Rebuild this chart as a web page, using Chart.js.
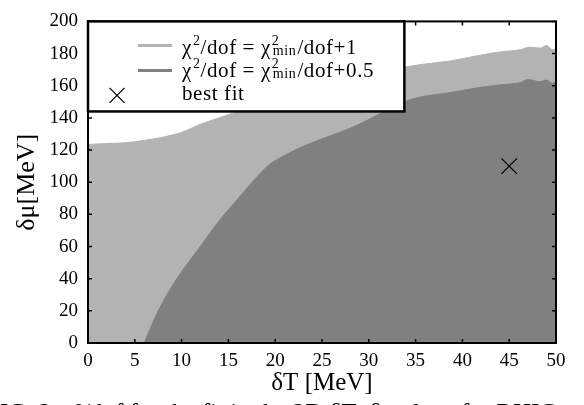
<!DOCTYPE html>
<html><head><meta charset="utf-8">
<script src="https://cdn.jsdelivr.net/npm/chart.js@4.4.0/dist/chart.umd.min.js"></script>
<style>html,body{margin:0;padding:0;background:#fff;overflow:hidden}#wrap{position:relative;width:584px;height:405px}</style>
</head><body><div id="wrap"><canvas id="c"></canvas></div>
<script>
// Light region (chi2/dof = chi2min/dof + 1): upper boundary
const lightT  = [0, 2, 4, 6, 8, 10, 12, 14, 15.5, 20, 25, 30, 33.8, 36, 38.7, 41.9, 44, 46.2, 47.2, 48.3, 49, 49.6, 50];
const lightMu = [123.5, 124, 124.5, 126, 128, 131, 136, 140, 143, 151, 160, 167, 171.5, 173.5, 175.4, 179, 181, 182.4, 184, 183.4, 185, 182.4, 183];
// Dark region (chi2/dof = chi2min/dof + 0.5): upper boundary
const darkT  = [6, 7.5, 9.5, 12, 14.1, 16, 18, 19.4, 20.5, 22.3, 24.8, 28, 30, 32, 34, 36, 38.7, 41.9, 44, 46.2, 47, 48.3, 49, 49.6, 50];
const darkMu = [0, 20, 40, 60, 76.6, 89.5, 103, 111, 115, 120.5, 126.5, 133.5, 139, 145, 150.5, 153.5, 155.7, 159, 160.5, 162, 163.8, 162.5, 163.5, 161.5, 163];
// Best fit point
const bestT  = [45];
const bestMu = [110];
// Ticks
const xTicks = [0, 5, 10, 15, 20, 25, 30, 35, 40, 45, 50];
const yTicks = [0, 20, 40, 60, 80, 100, 120, 140, 160, 180, 200];
const legendLabels = ['χ²/dof = χ²min/dof+1', 'χ²/dof = χ²min/dof+0.5', 'best fit'];
const legendRich = [
  [{t:'χ'},{sup:'2'},{t:'/dof = χ'},{sup:'2',sub:'min'},{t:'/dof+1'}],
  [{t:'χ'},{sup:'2'},{t:'/dof = χ'},{sup:'2',sub:'min'},{t:'/dof+0.5'}],
  [{t:'best fit'}]
];
const caption = 'FIG. 2: χ²/dof for the fit in the 2D δT–δμ plane for RHIC';

const FONT = '"Liberation Serif", "Times New Roman", serif';
const LIGHT = '#b3b3b3', DARK = '#808080';
const toPts = (xs, ys) => xs.map((v, i) => ({x: v, y: ys[i]}));

function drawRich(ctx, segs, x, y, size) {
  for (const s of segs) {
    if (s.t) {
      ctx.font = size + 'px ' + FONT;
      ctx.fillText(s.t, x, y);
      x += ctx.measureText(s.t).width;
    } else {
      const ss = Math.round(size * 0.66);
      ctx.font = ss + 'px ' + FONT;
      let w = 0;
      if (s.sup) { ctx.fillText(s.sup, x + 1, y - size * 0.45); w = Math.max(w, ctx.measureText(s.sup).width + 1); }
      if (s.sub) { ctx.fillText(s.sub, x + 2, y + 1); w = Math.max(w, ctx.measureText(s.sub).width + 3); }
      x += w;
    }
  }
}

const framePlugin = {
  id: 'frame',
  afterDatasetsDraw(chart) {
    const {ctx, chartArea: a, scales: {x, y}} = chart;
    ctx.save();
    ctx.strokeStyle = '#000';
    ctx.lineWidth = 1.5;
    ctx.beginPath();
    xTicks.forEach(v => { const p = x.getPixelForValue(v);
      ctx.moveTo(p, a.bottom); ctx.lineTo(p, a.bottom - 4);
      ctx.moveTo(p, a.top); ctx.lineTo(p, a.top + 4); });
    yTicks.forEach(v => { const p = y.getPixelForValue(v);
      ctx.moveTo(a.left, p); ctx.lineTo(a.left + 4, p);
      ctx.moveTo(a.right, p); ctx.lineTo(a.right - 4, p); });
    ctx.stroke();
    ctx.lineWidth = 2;
    ctx.strokeRect(a.left, a.top, a.right - a.left, a.bottom - a.top);

    // legend box
    const L = a.left, T = a.top, R = x.getPixelForValue(33.8), B = y.getPixelForValue(144);
    ctx.fillStyle = '#fff';
    ctx.fillRect(L, T, R - L, B - T);
    ctx.lineWidth = 2.5;
    ctx.strokeRect(L, T, R - L, B - T);
    ctx.lineWidth = 3;
    ctx.strokeStyle = LIGHT;
    ctx.beginPath(); ctx.moveTo(L + 50, T + 24); ctx.lineTo(L + 84, T + 24); ctx.stroke();
    ctx.strokeStyle = DARK;
    ctx.beginPath(); ctx.moveTo(L + 50, T + 49); ctx.lineTo(L + 84, T + 49); ctx.stroke();
    ctx.strokeStyle = '#000';
    ctx.lineWidth = 1.3;
    const mx = L + 29, my = T + 74, r = 7.5;
    ctx.beginPath(); ctx.moveTo(mx - r, my - r); ctx.lineTo(mx + r, my + r);
    ctx.moveTo(mx - r, my + r); ctx.lineTo(mx + r, my - r); ctx.stroke();
    ctx.fillStyle = '#000';
    ctx.textBaseline = 'alphabetic';
    ctx.textAlign = 'left';
    ctx.letterSpacing = '0.6px';
    drawRich(ctx, legendRich[0], L + 94, T + 33, 21);
    drawRich(ctx, legendRich[1], L + 94, T + 56, 21);
    drawRich(ctx, legendRich[2], L + 94, T + 79, 21);
    ctx.letterSpacing = '0px';
    ctx.restore();
  },
  afterDraw(chart) {
    const ctx = chart.ctx;
    ctx.save();
    ctx.fillStyle = '#000';
    ctx.font = '25px ' + FONT;
    ctx.textBaseline = 'alphabetic';
    ctx.textAlign = 'left';
    ctx.fillText(caption, -14, 421);
    ctx.restore();
  }
};

new Chart(document.getElementById('c'), {
  type: 'scatter',
  data: {
    datasets: [
      { label: legendLabels[0], type: 'line', data: toPts(lightT, lightMu), order: 3,
        borderColor: LIGHT, backgroundColor: LIGHT, borderWidth: 1, fill: 'origin',
        pointRadius: 0, cubicInterpolationMode: 'monotone' },
      { label: legendLabels[1], type: 'line', data: toPts(darkT, darkMu), order: 2,
        borderColor: DARK, backgroundColor: DARK, borderWidth: 1, fill: 'origin',
        pointRadius: 0, cubicInterpolationMode: 'monotone' },
      { label: legendLabels[2], data: toPts(bestT, bestMu), order: 1,
        pointStyle: 'crossRot', pointRadius: 11, borderColor: '#000', borderWidth: 1.3,
        backgroundColor: '#000' }
    ]
  },
  options: {
    responsive: true, maintainAspectRatio: false, animation: false,
    layout: { padding: { top: 9, right: 28, left: 0, bottom: 0 } },
    plugins: { legend: { display: false }, tooltip: { enabled: false } },
    scales: {
      x: { type: 'linear', min: 0, max: 50,
        ticks: { stepSize: 5, color: '#000', font: { family: FONT, size: 19 }, padding: 7, maxRotation: 0 },
        grid: { display: true, drawOnChartArea: false, drawTicks: false },
        border: { display: false },
        title: { display: true, text: 'δT [MeV]', color: '#000', font: { family: FONT, size: 25 }, padding: { top: 0, bottom: 7 } },
        afterFit(s) { s.height = 62; } },
      y: { type: 'linear', min: 0, max: 200,
        ticks: { stepSize: 20, color: '#000', font: { family: FONT, size: 19 }, padding: 10 },
        grid: { display: true, drawOnChartArea: false, drawTicks: false },
        border: { display: false },
        title: { display: true, text: 'δμ[MeV]', color: '#000', font: { family: FONT, size: 26 }, padding: { top: 12, bottom: 0 } },
        afterFit(s) { s.width = 88; } }
    }
  },
  plugins: [framePlugin]
});
</script></body></html>
